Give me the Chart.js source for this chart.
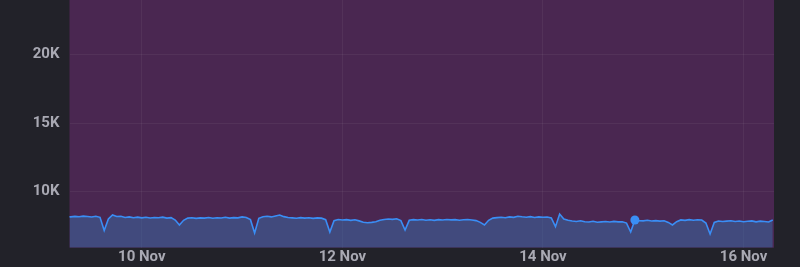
<!DOCTYPE html>
<html>
<head>
<meta charset="utf-8">
<script src="https://cdn.jsdelivr.net/npm/chart.js@4/dist/chart.umd.min.js"></script>
<style>
  html, body { margin: 0; padding: 0; background: #222229; }
  #wrap { width: 800px; height: 267px; position: relative; }
</style>
</head>
<body>
<div id="wrap"><canvas id="chartOne"></canvas></div>
<script>
// Hourly samples starting 9 Nov 06:00 (x in days of November)
const startDay = 9.25;

// Series values (one per hour)
const requestCounts = [
  8170, 8150, 8190, 8160, 8210, 8180, 8140, 8200, 8120, 7150,
  8000, 8290, 8180, 8200, 8110, 8150, 8090, 8130, 8080, 8120,
  8070, 8110, 8090, 8130, 8060, 8100, 7920, 7560, 7900, 8060,
  8090, 8040, 8080, 8060, 8110, 8050, 8090, 8070, 8120, 8060,
  8100, 8080, 8150, 8110, 7950, 6975, 8050, 8160, 8200, 8150,
  8220, 8290, 8170, 8110, 8080, 8050, 8100, 8060, 8090, 8040,
  8080, 8060, 7950, 7048, 7880, 7960, 7920, 7950, 7900, 7940,
  7860, 7760, 7720, 7750, 7800, 7900, 7960, 8000, 7970, 8010,
  7880, 7194, 7900, 7950, 7920, 7960, 7910, 7940, 7900, 7950,
  7920, 7960, 7930, 7950, 7910, 7940, 7960, 7920, 7880, 7750,
  7560, 7900, 8060, 8100, 8130, 8090, 8150, 8120, 8200, 8160,
  8130, 8170, 8110, 8150, 8120, 8140, 8080, 7435, 8363, 8000,
  7900, 7850, 7820, 7870, 7800, 7780, 7830, 7760, 7790, 7810,
  7780, 7820, 7790, 7800, 7700, 7048, 7925, 7880, 7860, 7900,
  7850, 7880, 7840, 7870, 7750, 7560, 7800, 7930, 7900, 7950,
  7910, 7940, 7920, 7700, 6902, 7750, 7850, 7810, 7840, 7870,
  7820, 7850, 7800, 7830, 7860, 7790, 7840, 7810, 7780, 7925
];

// Hovered point shown with a dot
const highlightIndex = 136;

// Axis ticks
const xTickDays = [10, 12, 14, 16];
const xTickLabels = ["10 Nov", "12 Nov", "14 Nov", "16 Nov"];
const yTickValues = [10000, 15000, 20000];
const yTickLabels = ["10K", "15K", "20K"];

const points = requestCounts.map(function (v, i) {
  return { x: startDay + i / 24, y: v };
});

// Paint the plot area purple
const plotBackground = {
  id: "plotBackground",
  beforeDraw: function (chart) {
    const a = chart.chartArea;
    const ctx = chart.ctx;
    ctx.save();
    ctx.fillStyle = "#4a2751";
    ctx.fillRect(a.left, a.top, a.right - a.left, a.bottom - a.top);
    ctx.restore();
  },
};

const tickFont = { family: "Roboto", size: 15, weight: "bold" };

new Chart(document.getElementById("chartOne"), {
  type: "line",
  data: {
    datasets: [
      {
        data: points,
        borderColor: "#3a8ef5",
        borderWidth: 1.6,
        backgroundColor: "rgba(56, 109, 169, 0.5)",
        fill: "origin",
        tension: 0,
        pointRadius: function (c) {
          return c.dataIndex === highlightIndex ? 4.5 : 0;
        },
        pointBackgroundColor: "#3a8ef5",
        pointBorderWidth: 0,
      },
    ],
  },
  options: {
    responsive: true,
    maintainAspectRatio: false,
    animation: false,
    layout: { padding: { left: 0, right: 26, top: 0, bottom: 0 } },
    plugins: {
      legend: { display: false },
      tooltip: { enabled: false },
    },
    scales: {
      x: {
        type: "linear",
        min: 9.279,
        max: 16.304,
        border: { display: false },
        grid: { color: "rgba(255,255,255,0.05)", drawTicks: false },
        afterBuildTicks: function (axis) {
          axis.ticks = xTickDays.map(function (d) { return { value: d }; });
        },
        afterFit: function (axis) {
          axis.height = 19.3;
          axis.paddingLeft = 0;
          axis.paddingRight = 0;
        },
        ticks: {
          padding: 1,
          color: "#a9a9b3",
          font: tickFont,
          maxRotation: 0,
          callback: function (v) {
            const i = xTickDays.indexOf(v);
            return i >= 0 ? xTickLabels[i] : "";
          },
        },
      },
      y: {
        min: 5900,
        max: 24000,
        border: { display: false },
        grid: { color: "rgba(255,255,255,0.05)", drawTicks: false },
        afterBuildTicks: function (axis) {
          axis.ticks = yTickValues.map(function (v) { return { value: v }; });
        },
        afterFit: function (axis) {
          axis.width = 69.5;
          axis.paddingTop = 0;
          axis.paddingBottom = 0;
        },
        ticks: {
          padding: 10,
          color: "#a9a9b3",
          font: tickFont,
          callback: function (v) {
            const i = yTickValues.indexOf(v);
            return i >= 0 ? yTickLabels[i] : "";
          },
        },
      },
    },
  },
  plugins: [plotBackground],
});
</script>
</body>
</html>
